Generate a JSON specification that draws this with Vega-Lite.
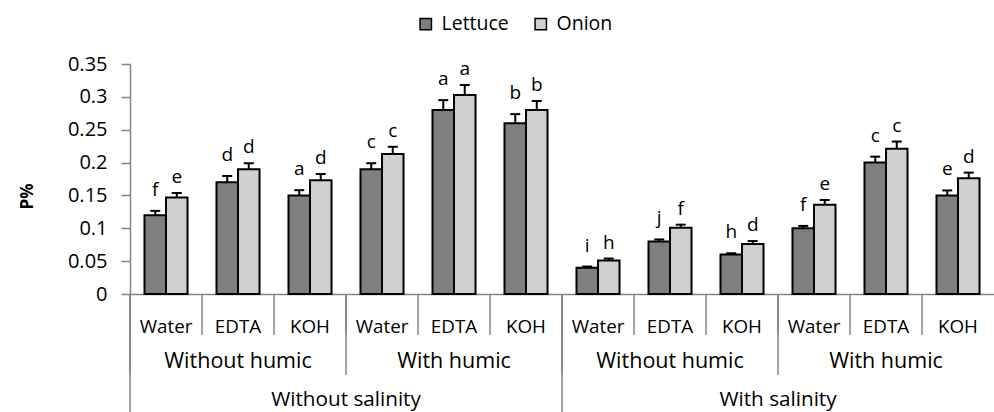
{
  "$schema": "https://vega.github.io/schema/vega-lite/v6.json",
  "width": 864,
  "height": 230,
  "autosize": {"type": "none"},
  "padding": {"left": 130, "top": 64, "right": 0, "bottom": 118},
  "config": {
    "view": {"stroke": null},
    "font": "Open Sans",
    "text": {"font": "Open Sans", "color": "#000000"},
    "axisY": {
      "grid": false,
      "labelOverlap": false,
      "domainColor": "#868686",
      "domainWidth": 1.5,
      "tickColor": "#868686",
      "tickWidth": 1.5,
      "tickSize": 9,
      "labelPadding": 14,
      "labelFontSize": 20,
      "labelColor": "#000000",
      "titleFontSize": 17,
      "titleFontWeight": "bold",
      "titleColor": "#000000",
      "titleX": -103,
      "titleY": 132,
      "titleAngle": -90,
      "titleAlign": "center",
      "titleBaseline": "middle"
    }
  },
  "data": {
    "values": [
      {"salinity": "Without salinity", "humic": "Without humic", "treatment": "Water", "group": "Without salinity|Without humic|Water", "species": "Lettuce", "p": 0.120, "hi": 0.1265, "letter": "f"},
      {"salinity": "Without salinity", "humic": "Without humic", "treatment": "Water", "group": "Without salinity|Without humic|Water", "species": "Onion", "p": 0.147, "hi": 0.1537, "letter": "e"},
      {"salinity": "Without salinity", "humic": "Without humic", "treatment": "EDTA", "group": "Without salinity|Without humic|EDTA", "species": "Lettuce", "p": 0.170, "hi": 0.1796, "letter": "d"},
      {"salinity": "Without salinity", "humic": "Without humic", "treatment": "EDTA", "group": "Without salinity|Without humic|EDTA", "species": "Onion", "p": 0.190, "hi": 0.199, "letter": "d"},
      {"salinity": "Without salinity", "humic": "Without humic", "treatment": "KOH", "group": "Without salinity|Without humic|KOH", "species": "Lettuce", "p": 0.150, "hi": 0.158, "letter": "a"},
      {"salinity": "Without salinity", "humic": "Without humic", "treatment": "KOH", "group": "Without salinity|Without humic|KOH", "species": "Onion", "p": 0.173, "hi": 0.1826, "letter": "d"},
      {"salinity": "Without salinity", "humic": "With humic", "treatment": "Water", "group": "Without salinity|With humic|Water", "species": "Lettuce", "p": 0.190, "hi": 0.199, "letter": "c"},
      {"salinity": "Without salinity", "humic": "With humic", "treatment": "Water", "group": "Without salinity|With humic|Water", "species": "Onion", "p": 0.213, "hi": 0.224, "letter": "c"},
      {"salinity": "Without salinity", "humic": "With humic", "treatment": "EDTA", "group": "Without salinity|With humic|EDTA", "species": "Lettuce", "p": 0.280, "hi": 0.295, "letter": "a"},
      {"salinity": "Without salinity", "humic": "With humic", "treatment": "EDTA", "group": "Without salinity|With humic|EDTA", "species": "Onion", "p": 0.303, "hi": 0.318, "letter": "a"},
      {"salinity": "Without salinity", "humic": "With humic", "treatment": "KOH", "group": "Without salinity|With humic|KOH", "species": "Lettuce", "p": 0.260, "hi": 0.2737, "letter": "b"},
      {"salinity": "Without salinity", "humic": "With humic", "treatment": "KOH", "group": "Without salinity|With humic|KOH", "species": "Onion", "p": 0.280, "hi": 0.2937, "letter": "b"},
      {"salinity": "With salinity", "humic": "Without humic", "treatment": "Water", "group": "With salinity|Without humic|Water", "species": "Lettuce", "p": 0.040, "hi": 0.0418, "letter": "i"},
      {"salinity": "With salinity", "humic": "Without humic", "treatment": "Water", "group": "With salinity|Without humic|Water", "species": "Onion", "p": 0.051, "hi": 0.054, "letter": "h"},
      {"salinity": "With salinity", "humic": "Without humic", "treatment": "EDTA", "group": "With salinity|Without humic|EDTA", "species": "Lettuce", "p": 0.080, "hi": 0.083, "letter": "j"},
      {"salinity": "With salinity", "humic": "Without humic", "treatment": "EDTA", "group": "With salinity|Without humic|EDTA", "species": "Onion", "p": 0.101, "hi": 0.1055, "letter": "f"},
      {"salinity": "With salinity", "humic": "Without humic", "treatment": "KOH", "group": "With salinity|Without humic|KOH", "species": "Lettuce", "p": 0.060, "hi": 0.062, "letter": "h"},
      {"salinity": "With salinity", "humic": "Without humic", "treatment": "KOH", "group": "With salinity|Without humic|KOH", "species": "Onion", "p": 0.076, "hi": 0.0806, "letter": "d"},
      {"salinity": "With salinity", "humic": "With humic", "treatment": "Water", "group": "With salinity|With humic|Water", "species": "Lettuce", "p": 0.100, "hi": 0.1036, "letter": "f"},
      {"salinity": "With salinity", "humic": "With humic", "treatment": "Water", "group": "With salinity|With humic|Water", "species": "Onion", "p": 0.136, "hi": 0.143, "letter": "e"},
      {"salinity": "With salinity", "humic": "With humic", "treatment": "EDTA", "group": "With salinity|With humic|EDTA", "species": "Lettuce", "p": 0.200, "hi": 0.209, "letter": "c"},
      {"salinity": "With salinity", "humic": "With humic", "treatment": "EDTA", "group": "With salinity|With humic|EDTA", "species": "Onion", "p": 0.221, "hi": 0.232, "letter": "c"},
      {"salinity": "With salinity", "humic": "With humic", "treatment": "KOH", "group": "With salinity|With humic|KOH", "species": "Lettuce", "p": 0.150, "hi": 0.1576, "letter": "e"},
      {"salinity": "With salinity", "humic": "With humic", "treatment": "KOH", "group": "With salinity|With humic|KOH", "species": "Onion", "p": 0.176, "hi": 0.1847, "letter": "d"}
    ]
  },
  "layer": [
    {
      "mark": {"type": "bar", "stroke": "#000000", "strokeWidth": 2},
      "encoding": {
        "x": {
          "field": "group", "type": "nominal", "sort": null, "title": null,
          "scale": {"paddingInner": 0, "paddingOuter": 0},
          "axis": {
            "bandPosition": 0.5,
            "labelExpr": "split(datum.value, '|')[2]",
            "ticks": false,
            "labelAngle": 0,
            "labelAlign": "center",
            "labelFontSize": 18.8,
            "labelColor": "#000000",
            "labelPadding": 23,
            "domainColor": "#868686",
            "domainWidth": 1.5,
            "grid": false
          }
        },
        "xOffset": {
          "field": "species", "type": "nominal",
          "scale": {"domain": ["Lettuce", "Onion"], "paddingInner": 0, "paddingOuter": 0.674}
        },
        "y": {
          "field": "p", "type": "quantitative",
          "scale": {"domain": [0, 0.35], "nice": false, "zero": true},
          "axis": {"title": "P%", "values": [0, 0.05, 0.1, 0.15, 0.2, 0.25, 0.3, 0.35], "format": "~g"}
        },
        "fill": {
          "field": "species", "type": "nominal",
          "scale": {"domain": ["Lettuce", "Onion"], "range": ["#7f7f7f", "#d0d0d0"]},
          "legend": {
            "orient": "none",
            "legendX": 286,
            "legendY": -50,
            "direction": "horizontal",
            "title": null,
            "symbolType": "square",
            "symbolSize": 130,
            "symbolStrokeColor": "#000000",
            "symbolStrokeWidth": 1.5,
            "symbolOpacity": 1,
            "labelFontSize": 19.5,
            "labelColor": "#000000",
            "labelOffset": 6,
            "columnPadding": 22
          }
        }
      }
    },
    {
      "transform": [{"filter": "datum.species == 'Lettuce'"}],
      "mark": {"type": "rule", "color": "#868686", "strokeWidth": 1.5},
      "encoding": {
        "x": {"field": "group", "type": "nominal", "sort": null, "bandPosition": 0, "title": null},
        "y": {"datum": 0, "type": "quantitative", "axis": {"title": "P%", "values": [0, 0.05, 0.1, 0.15, 0.2, 0.25, 0.3, 0.35], "format": "~g"}},
        "y2": {"datum": -0.0624}
      }
    },
    {
      "transform": [{"filter": "datum.species == 'Lettuce' && datum.treatment == 'Water'"}],
      "mark": {"type": "rule", "color": "#868686", "strokeWidth": 1.5},
      "encoding": {
        "x": {"field": "group", "type": "nominal", "sort": null, "bandPosition": 0, "title": null},
        "y": {"datum": 0, "type": "quantitative", "axis": {"title": "P%", "values": [0, 0.05, 0.1, 0.15, 0.2, 0.25, 0.3, 0.35], "format": "~g"}},
        "y2": {"datum": -0.1233}
      }
    },
    {
      "transform": [{"filter": "datum.species == 'Lettuce' && datum.treatment == 'Water' && datum.humic == 'Without humic'"}],
      "mark": {"type": "rule", "color": "#868686", "strokeWidth": 1.5},
      "encoding": {
        "x": {"field": "group", "type": "nominal", "sort": null, "bandPosition": 0, "title": null},
        "y": {"datum": 0, "type": "quantitative", "axis": {"title": "P%", "values": [0, 0.05, 0.1, 0.15, 0.2, 0.25, 0.3, 0.35], "format": "~g"}},
        "y2": {"datum": -0.25}
      }
    },
    {
      "mark": {"type": "rule", "color": "#000000", "strokeWidth": 2},
      "encoding": {
        "x": {"field": "group", "type": "nominal", "sort": null, "title": null},
        "xOffset": {"field": "species", "type": "nominal"},
        "y": {"field": "p", "type": "quantitative", "axis": {"title": "P%", "values": [0, 0.05, 0.1, 0.15, 0.2, 0.25, 0.3, 0.35], "format": "~g"}},
        "y2": {"field": "hi"}
      }
    },
    {
      "mark": {"type": "tick", "color": "#000000", "thickness": 2, "size": 10, "opacity": 1},
      "encoding": {
        "x": {"field": "group", "type": "nominal", "sort": null, "title": null},
        "xOffset": {"field": "species", "type": "nominal"},
        "y": {"field": "hi", "type": "quantitative", "axis": {"title": "P%", "values": [0, 0.05, 0.1, 0.15, 0.2, 0.25, 0.3, 0.35], "format": "~g"}}
      }
    },
    {
      "transform": [{"filter": "datum.species == 'Lettuce'"}],
      "mark": {"type": "text", "baseline": "alphabetic", "dy": -15, "fontSize": 19},
      "encoding": {
        "x": {"field": "group", "type": "nominal", "sort": null, "title": null},
        "xOffset": {"field": "species", "type": "nominal"},
        "y": {"field": "hi", "type": "quantitative", "axis": {"title": "P%", "values": [0, 0.05, 0.1, 0.15, 0.2, 0.25, 0.3, 0.35], "format": "~g"}},
        "text": {"field": "letter"}
      }
    },
    {
      "transform": [{"filter": "datum.species == 'Onion'"}],
      "mark": {"type": "text", "baseline": "alphabetic", "dy": -10, "fontSize": 19},
      "encoding": {
        "x": {"field": "group", "type": "nominal", "sort": null, "title": null},
        "xOffset": {"field": "species", "type": "nominal"},
        "y": {"field": "hi", "type": "quantitative", "axis": {"title": "P%", "values": [0, 0.05, 0.1, 0.15, 0.2, 0.25, 0.3, 0.35], "format": "~g"}},
        "text": {"field": "letter"}
      }
    },
    {
      "transform": [{"filter": "datum.species == 'Lettuce' && datum.treatment == 'EDTA'"}],
      "mark": {"type": "text", "baseline": "alphabetic", "fontSize": 21.5},
      "encoding": {
        "x": {"field": "group", "type": "nominal", "sort": null, "title": null},
        "y": {"datum": -0.1126, "type": "quantitative", "axis": {"title": "P%", "values": [0, 0.05, 0.1, 0.15, 0.2, 0.25, 0.3, 0.35], "format": "~g"}},
        "text": {"field": "humic"}
      }
    },
    {
      "transform": [{"filter": "datum.species == 'Lettuce' && datum.treatment == 'KOH' && datum.humic == 'Without humic'"}],
      "mark": {"type": "text", "baseline": "alphabetic", "fontSize": 20.7},
      "encoding": {
        "x": {"field": "group", "type": "nominal", "sort": null, "bandPosition": 1, "title": null},
        "y": {"datum": -0.1705, "type": "quantitative", "axis": {"title": "P%", "values": [0, 0.05, 0.1, 0.15, 0.2, 0.25, 0.3, 0.35], "format": "~g"}},
        "text": {"field": "salinity"}
      }
    }
  ]
}
